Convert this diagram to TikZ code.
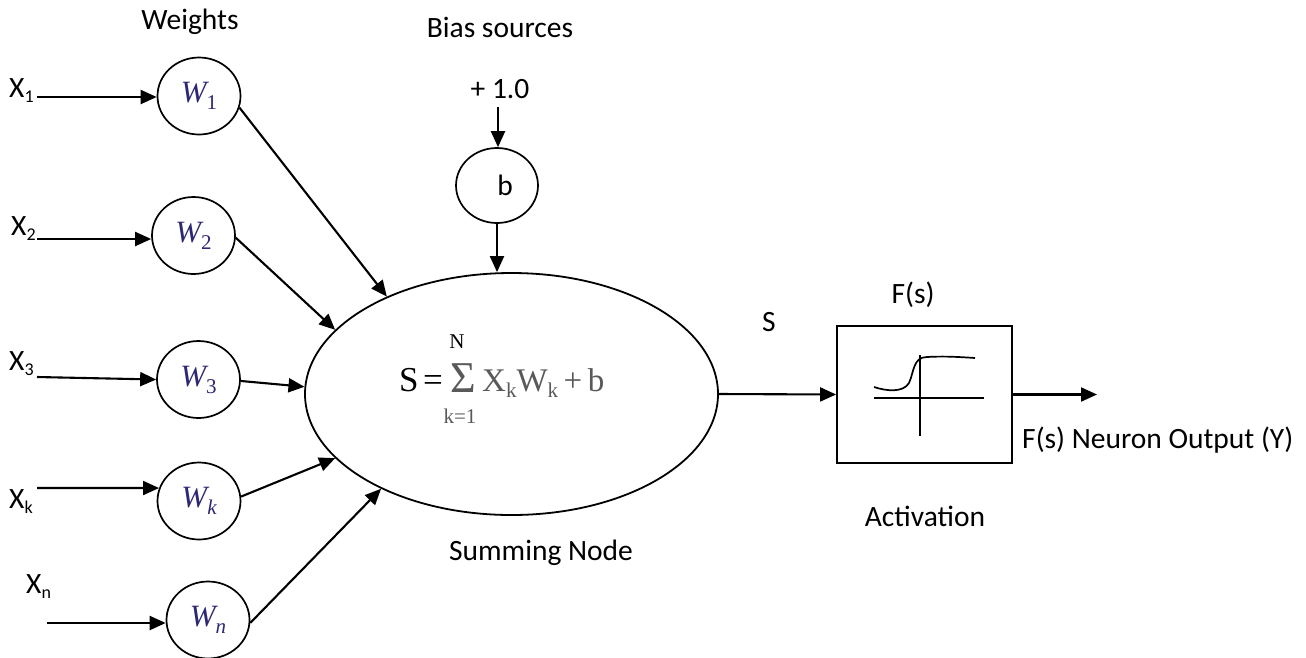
\documentclass[tikz,border=0pt]{standalone}
\usepackage{fontspec}
\setmainfont{Carlito}
\newfontfamily\tms{Liberation Serif}
\usetikzlibrary{arrows.meta,shapes.geometric}
\definecolor{wcol}{RGB}{45,40,115}
\definecolor{fgray}{RGB}{89,89,89}
\newcommand{\xsub}[1]{\raisebox{-5pt}{\fontsize{18}{18}\selectfont #1}}
\newcommand{\ksub}{\raisebox{-6pt}{\fontsize{21}{21}\selectfont k}}
\newcommand{\wlab}[1]{{\tms\itshape W}\raisebox{-7pt}{\fontsize{21}{21}\selectfont\tms #1}}
\begin{document}
\begin{tikzpicture}[x=1pt,y=-1pt,
  lbl/.style={font=\fontsize{29.5}{34}\selectfont, inner sep=0pt},
  wnode/.style={draw, ellipse, line width=1.7pt, minimum width=83pt, minimum height=77pt,
    inner sep=0pt, font=\fontsize{31}{31}\selectfont, text=wcol},
  arr/.style={line width=2.1pt, -{Triangle[length=16pt,width=14pt]}},
  eqtxt/.style={inner sep=0pt, font=\tms\fontsize{35}{35}\selectfont},
]
\useasboundingbox (0,0) rectangle (1306,657);

% headings
\node[lbl, anchor=base] (weights) at (190,29) {Weights};
\node[lbl, anchor=base] (biassrc) at (500,37) {Bias sources};
\node[lbl, anchor=base] (plusone) at (500,98) {+ 1.0};

% input labels
\node[lbl, anchor=base west] (x1) at (9,97) {X\xsub{1}};
\node[lbl, anchor=base west] (x2) at (11,235) {X\xsub{2}};
\node[lbl, anchor=base west] (x3) at (9,370) {X\xsub{3}};
\node[lbl, anchor=base west] (xk) at (9,508) {X\xsub{k}};
\node[lbl, anchor=base west] (xn) at (26,593) {X\xsub{n}};

% arrow starts
\coordinate (x1s) at (37,97);
\coordinate (x2s) at (37,239);
\coordinate (x3s) at (37,377);
\coordinate (xks) at (37,488);
\coordinate (xns) at (47,623);
\coordinate (bsrc) at (498,107);

% weight nodes
\node[wnode] (w1) at (199,96) {\wlab{1}};
\node[wnode] (w2) at (193.5,235.5) {\wlab{2}};
\node[wnode] (w3) at (198.5,379.5) {\wlab{3}};
\node[wnode] (wk) at (199,501) {\wlab{\itshape k}};
\node[wnode] (wn) at (208,620) {\wlab{\itshape n}};

% bias node
\node[draw, ellipse, line width=1.7pt, minimum width=82pt, minimum height=75pt, inner sep=0pt] (bc) at (497,185.5) {};
\node[lbl, anchor=base] (blbl) at (505,195) {b};

% summing node
\node[draw, ellipse, line width=1.8pt, minimum width=413pt, minimum height=242pt, inner sep=0pt] (sum) at (511.5,394) {};

% formula
\node[eqtxt, anchor=base west] (eqS) at (399,391) {S};
\node[eqtxt, anchor=base west] (eqEq) at (423,391) {=};
\node[inner sep=0pt, anchor=base west, font=\tms\fontsize{44}{44}\selectfont, text=fgray] (eqSig) at (450,392) {Σ};
\node[inner sep=0pt, anchor=base west, font=\tms\fontsize{33}{33}\selectfont, text=fgray] (eqRest) at (482,391) {X\ksub W\ksub\,+\,b};
\node[inner sep=0pt, anchor=base, font=\tms\fontsize{21}{21}\selectfont] (eqN) at (457,348) {N};
\node[inner sep=0pt, anchor=base, font=\tms\fontsize{21}{21}\selectfont, text=fgray] (eqK) at (460,423) {k=1};

\node[lbl, anchor=base] (sumlbl) at (541,560) {Summing Node};

% activation box
\node[draw, rectangle, line width=1.8pt, minimum width=175pt, minimum height=137pt, inner sep=0pt] (act) at (924.5,394.5) {};
\node[lbl, anchor=base] (fs) at (913,303) {F(s)};
\node[lbl, anchor=base] (slbl) at (769,331) {S};
\node[lbl, anchor=base] (actlbl) at (925,526) {Activation};
\node[lbl, anchor=base west] (outlbl) at (1022,448) {F(s) Neuron Output (Y)};
\coordinate (outend) at (1097,396);

% sigmoid graph inside box
\draw[line width=1.7pt] (874,398) -- (984,398);
\draw[line width=1.7pt] (920,355) -- (920,436);
\draw[line width=1.7pt] (874,387) .. controls (886,391) and (903,393) .. (909,383)
  .. controls (914,372) and (913,357) .. (927,357)
  .. controls (945,356) and (960,357) .. (975,358);

% input arrows
\draw[arr] (x1s) -- (x1s -| w1.west);
\draw[arr] (x2s) -- (x2s -| w2.west);
\draw[arr] (x3s) -- (w3.west);
\draw[arr] (xks) -- (wk.162);
\draw[arr] (xns) -- (xns -| wn.west);

% weights to summing node
\draw[arr] (w1.-16) -- (sum.142);
\draw[arr] (w2.-3) -- (sum.160);
\draw[arr] (w3.-2) -- (sum.178);
\draw[arr] (wk.6) -- (sum.200.7);
\draw[arr] (wn.-4) -- (sum.216.6);

% bias arrows
\draw[arr] (bsrc) -- (bsrc |- bc.north);
\draw[arr] (bc.south) -- (bc.south |- sum.north);

% output path
\draw[arr] (sum.east) -- (act.west);
\draw[arr] (act.east) -- (act.east -| outend);
\end{tikzpicture}
\end{document}
